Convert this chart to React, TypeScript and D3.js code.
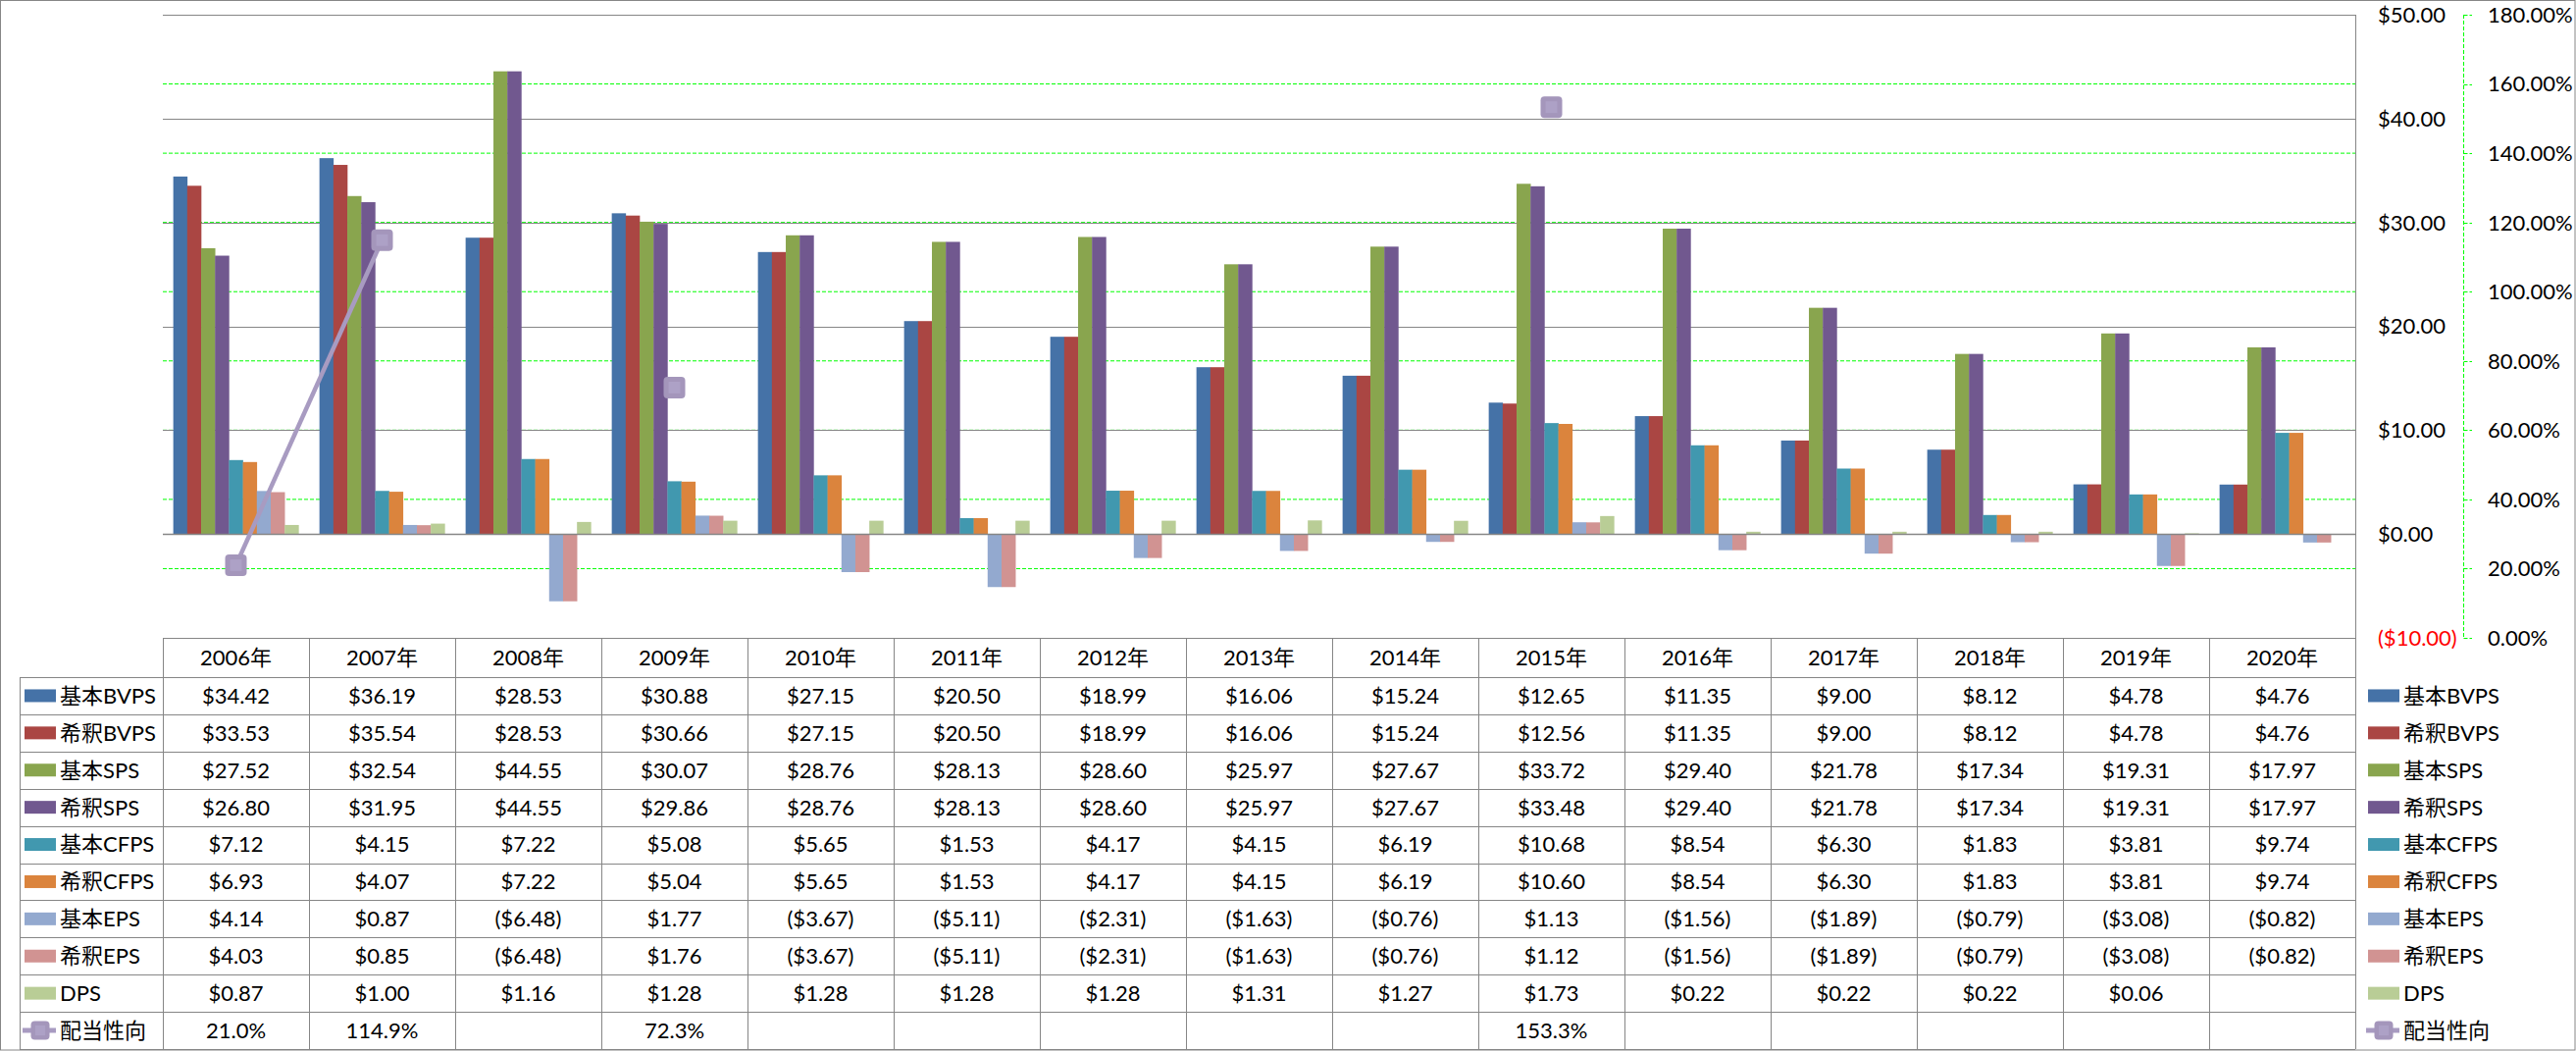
import React, { useEffect } from "react";
import * as d3 from "d3";

const years = ["2006年","2007年","2008年","2009年","2010年","2011年","2012年","2013年","2014年","2015年","2016年","2017年","2018年","2019年","2020年"];
const seriesNames = ["基本BVPS","希釈BVPS","基本SPS","希釈SPS","基本CFPS","希釈CFPS","基本EPS","希釈EPS","DPS"];
const seriesColors = ["#4572A7","#AA4643","#89A54E","#71588F","#4198AF","#DB843D","#93A9CF","#D19392","#B9CD96"];
const basicBVPS = [34.42,36.19,28.53,30.88,27.15,20.50,18.99,16.06,15.24,12.65,11.35,9.00,8.12,4.78,4.76];
const dilutedBVPS = [33.53,35.54,28.53,30.66,27.15,20.50,18.99,16.06,15.24,12.56,11.35,9.00,8.12,4.78,4.76];
const basicSPS = [27.52,32.54,44.55,30.07,28.76,28.13,28.60,25.97,27.67,33.72,29.40,21.78,17.34,19.31,17.97];
const dilutedSPS = [26.80,31.95,44.55,29.86,28.76,28.13,28.60,25.97,27.67,33.48,29.40,21.78,17.34,19.31,17.97];
const basicCFPS = [7.12,4.15,7.22,5.08,5.65,1.53,4.17,4.15,6.19,10.68,8.54,6.30,1.83,3.81,9.74];
const dilutedCFPS = [6.93,4.07,7.22,5.04,5.65,1.53,4.17,4.15,6.19,10.60,8.54,6.30,1.83,3.81,9.74];
const basicEPS = [4.14,0.87,-6.48,1.77,-3.67,-5.11,-2.31,-1.63,-0.76,1.13,-1.56,-1.89,-0.79,-3.08,-0.82];
const dilutedEPS = [4.03,0.85,-6.48,1.76,-3.67,-5.11,-2.31,-1.63,-0.76,1.12,-1.56,-1.89,-0.79,-3.08,-0.82];
const dps: (number | null)[] = [0.87,1.00,1.16,1.28,1.28,1.28,1.28,1.31,1.27,1.73,0.22,0.22,0.22,0.06,null];
const payoutName = "配当性向";
const payout: (number | null)[] = [21.0,114.9,null,72.3,null,null,null,null,null,153.3,null,null,null,null,null];
const primaryTicks = [-10,0,10,20,30,40,50];
const secondaryTicks = [0,20,40,60,80,100,120,140,160,180];

const seriesValues: (number | null)[][] = [basicBVPS, dilutedBVPS, basicSPS, dilutedSPS, basicCFPS, dilutedCFPS, basicEPS, dilutedEPS, dps];

const W = 2626, H = 1071;
const plotL = 166, plotR = 2401, plotT = 15, plotB = 650;
const headerB = 690, tableB = 1069, tableL = 20;
const rowH = (tableB - headerB) / 10;
const FONT = "Lato, 'Noto Sans CJK JP', sans-serif";
const FS = 22;
const GRAY = "#868686";
const GREEN = "#00FF00";
const LINE_COLOR = "#A89BC1";

const fmtMoney = (v: number | null) => v == null ? "" : (v < 0 ? `($${Math.abs(v).toFixed(2)})` : `$${v.toFixed(2)}`);
const fmtPct1 = (v: number | null) => v == null ? "" : `${v.toFixed(1)}%`;

function Marker({ cx, cy, s = 22 }: { cx: number; cy: number; s?: number }) {
  return (
    <g>
      <rect x={cx - s / 2} y={cy - s / 2} width={s} height={s} rx={4} fill="#A496BB" />
      <rect x={cx - s * 0.27} y={cy - s * 0.27} width={s * 0.54} height={s * 0.54} fill="#ADA1C6" />
    </g>
  );
}

export default function App() {
  useEffect(() => {
    document.body.style.margin = "0";
  }, []);

  const x = d3.scaleBand<string>().domain(years).range([plotL, plotR]).paddingInner(0).paddingOuter(0);
  const bw = x.bandwidth();
  const xi = d3.scaleBand<string>().domain(seriesNames).range([0, bw]).paddingInner(0).paddingOuter(0.75);
  const y = d3.scaleLinear().domain([-10, 50]).range([plotB, plotT]);
  const y2 = d3.scaleLinear().domain([0, 180]).range([plotB, plotT]);

  const lineGen = d3.line<number | null>()
    .defined((d) => d != null)
    .x((_, i) => (x(years[i]) as number) + bw / 2)
    .y((d) => y2(d as number));

  const rowLabels = [...seriesNames, payoutName];
  const rowData: string[][] = [
    ...seriesValues.map((arr) => arr.map(fmtMoney)),
    payout.map(fmtPct1),
  ];

  const legendSwatch = (i: number, sx: number, cy: number) => {
    if (i < seriesNames.length) {
      return <rect x={sx} y={cy - 6.5} width={32} height={13} fill={seriesColors[i]} />;
    }
    return (
      <g>
        <line x1={sx - 2} x2={sx + 32} y1={cy} y2={cy} stroke={LINE_COLOR} strokeWidth={5} />
        <Marker cx={sx + 16} cy={cy} s={19} />
      </g>
    );
  };

  return (
    <svg width={W} height={H} style={{ display: "block", position: "absolute", left: 0, top: 0, background: "#fff" }} fontFamily={FONT}>
      <rect x={0.5} y={0.5} width={W - 1.5} height={H - 1.5} fill="#fff" stroke={GRAY} strokeWidth={1} />

      {/* secondary gridlines */}
      {secondaryTicks.filter((t) => t > 0 && t < 180).map((t) => (
        <line key={"g2" + t} x1={plotL} x2={plotR} y1={y2(t)} y2={y2(t)} stroke={GREEN} strokeWidth={1} strokeDasharray="4 2" />
      ))}
      {/* primary gridlines */}
      {primaryTicks.filter((t) => t > -10).map((t) => (
        <line key={"g1" + t} x1={plotL} x2={plotR} y1={Math.round(y(t)) + 0.5} y2={Math.round(y(t)) + 0.5} stroke={GRAY} strokeWidth={1} />
      ))}

      {/* bars */}
      {seriesValues.map((arr, si) => (
        <g key={"s" + si} fill={seriesColors[si]}>
          {arr.map((v, i) => {
            if (v == null) return null;
            const x0 = (x(years[i]) as number) + (xi(seriesNames[si]) as number);
            const ya = y(Math.max(0, v));
            const yb = y(Math.min(0, v));
            return <rect key={i} x={x0} y={ya} width={xi.bandwidth() + 0.3} height={Math.max(0, yb - ya)} />;
          })}
        </g>
      ))}

      {/* primary axis line at zero & right */}
      <line x1={plotL} x2={plotR} y1={Math.round(y(0)) + 0.5} y2={Math.round(y(0)) + 0.5} stroke={GRAY} strokeWidth={1.3} />
      <line x1={plotR + 0.5} x2={plotR + 0.5} y1={plotT} y2={tableB} stroke={GRAY} strokeWidth={1} />

      {/* payout line */}
      <path d={lineGen(payout) || ""} fill="none" stroke={LINE_COLOR} strokeWidth={4.5} />
      {payout.map((v, i) => v == null ? null : (
        <Marker key={"m" + i} cx={(x(years[i]) as number) + bw / 2} cy={y2(v)} />
      ))}

      {/* primary axis labels */}
      {primaryTicks.map((t) => (
        <text key={"pl" + t} x={2424} y={y(t)} dy="0.36em" fontSize={FS} fill={t < 0 ? "#FF0000" : "#000"}>
          {fmtMoney(t)}
        </text>
      ))}

      {/* secondary axis */}
      <line x1={2511.5} x2={2511.5} y1={plotT} y2={plotB} stroke={GREEN} strokeWidth={1} strokeDasharray="4 2" />
      {secondaryTicks.map((t) => (
        <g key={"sl" + t}>
          <line x1={2511.5} x2={2520} y1={Math.round(y2(t)) + 0.5} y2={Math.round(y2(t)) + 0.5} stroke={GREEN} strokeWidth={1} strokeDasharray="4 2" />
          <text x={2536} y={y2(t)} dy="0.36em" fontSize={FS} fill="#000">{`${t.toFixed(2)}%`}</text>
        </g>
      ))}

      {/* data table */}
      <line x1={plotL} x2={plotR} y1={plotB + 0.5} y2={plotB + 0.5} stroke={GRAY} strokeWidth={1} />
      {d3.range(11).map((k) => (
        <line key={"h" + k} x1={tableL} x2={plotR} y1={Math.round(headerB + k * rowH) + 0.5} y2={Math.round(headerB + k * rowH) + 0.5} stroke={GRAY} strokeWidth={1} />
      ))}
      <line x1={tableL + 0.5} x2={tableL + 0.5} y1={headerB} y2={tableB} stroke={GRAY} strokeWidth={1} />
      {years.map((yr) => (
        <line key={"v" + yr} x1={Math.round(x(yr) as number) + 0.5} x2={Math.round(x(yr) as number) + 0.5} y1={plotB} y2={tableB} stroke={GRAY} strokeWidth={1} />
      ))}
      {years.map((yr) => (
        <text key={"hd" + yr} x={(x(yr) as number) + bw / 2} y={(plotB + headerB) / 2} dy="0.36em" fontSize={FS} textAnchor="middle" fill="#000">{yr}</text>
      ))}
      {rowLabels.map((lbl, r) => {
        const cy = headerB + (r + 0.5) * rowH;
        return (
          <g key={"r" + r}>
            {legendSwatch(r, 25, cy)}
            <text x={61} y={cy} dy="0.36em" fontSize={FS} fill="#000">{lbl}</text>
            {rowData[r].map((s, i) => (
              <text key={i} x={(x(years[i]) as number) + bw / 2} y={cy} dy="0.36em" fontSize={FS} textAnchor="middle" fill="#000">{s}</text>
            ))}
            {legendSwatch(r, 2414, cy)}
            <text x={2450} y={cy} dy="0.36em" fontSize={FS} fill="#000">{lbl}</text>
          </g>
        );
      })}
    </svg>
  );
}
